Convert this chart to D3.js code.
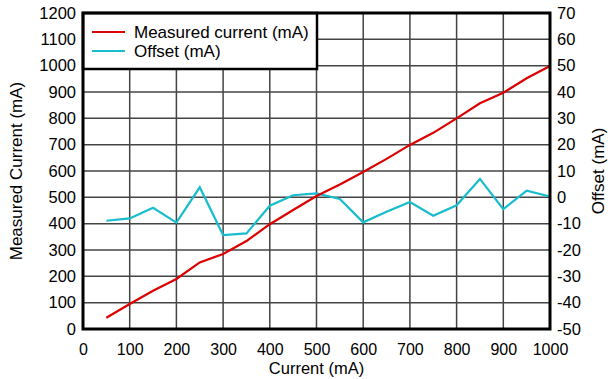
<!DOCTYPE html>
<html><head><meta charset="utf-8">
<script src="https://cdn.jsdelivr.net/npm/d3@7"></script>
<style>body{margin:0;background:#fff}svg{display:block;font-family:"Liberation Sans",Arial,sans-serif}</style>
</head><body><svg id="c" width="611" height="379"></svg>
<script>
const xValues = [50,100,150,200,250,300,350,400,450,500,550,600,650,700,750,800,850,900,950,1000];
const measured = [43,95,145,190,253,285,334,398,452,505,549,596,646,699,745,800,857,897,952,999];
const offset = [-8.9,-8,-4,-9.6,3.8,-14.3,-13.7,-3.2,0.8,1.5,-0.6,-9.5,-5.5,-1.8,-7,-3,7,-4.5,2.5,0.3];
const xTicks = [0,100,200,300,400,500,600,700,800,900,1000];
const leftTicks = [0,100,200,300,400,500,600,700,800,900,1000,1100,1200];
const rightTicks = [-50,-40,-30,-20,-10,0,10,20,30,40,50,60,70];
const seriesNames = ["Measured current (mA)","Offset (mA)"];
const colors = ["#dd0000","#17bccd"];

const svg = d3.select("#c");
const L=83,R=550,T=13,B=329;
const x = d3.scaleLinear().domain([0,1000]).range([L,R]);
const yL = d3.scaleLinear().domain([0,1200]).range([B,T]);
const yR = d3.scaleLinear().domain([-50,70]).range([B,T]);

// grid
svg.append("g").selectAll("line").data(xTicks).join("line")
  .attr("x1",d=>x(d)).attr("x2",d=>x(d)).attr("y1",T).attr("y2",B)
  .attr("stroke","#444").attr("stroke-width",1.5);
svg.append("g").selectAll("line").data(leftTicks).join("line")
  .attr("y1",d=>yL(d)).attr("y2",d=>yL(d)).attr("x1",L).attr("x2",R)
  .attr("stroke","#444").attr("stroke-width",1.5);

// axes labels
const fs = 16.5, tfs = 17;
const fmt = d => String(d);
const xa = d3.axisBottom(x).tickValues(xTicks).tickFormat(fmt).tickSize(0).tickPadding(14);
const gx = svg.append("g").attr("transform",`translate(0,${B})`).call(xa);
gx.selectAll("text").attr("dy",null).attr("y",355-B);
const la = d3.axisLeft(yL).tickValues(leftTicks).tickFormat(fmt).tickSize(0).tickPadding(7);
const gl = svg.append("g").attr("transform",`translate(${L},0)`).call(la);
const ra = d3.axisRight(yR).tickValues(rightTicks).tickFormat(fmt).tickSize(0).tickPadding(7);
const gr = svg.append("g").attr("transform",`translate(${R},0)`).call(ra);
[gx,gl,gr].forEach(g=>{g.select(".domain").remove();g.selectAll("text").attr("font-size",fs).attr("fill","#000").attr("font-family","Liberation Sans, Arial, sans-serif");});
gx.selectAll("text").attr("font-size",16);

// lines
const lineL = d3.line().x((d,i)=>x(xValues[i])).y(d=>yL(d));
const lineR = d3.line().x((d,i)=>x(xValues[i])).y(d=>yR(d));
svg.append("path").datum(offset).attr("d",lineR).attr("fill","none").attr("stroke",colors[1]).attr("stroke-width",2.2);
svg.append("path").datum(measured).attr("d",lineL).attr("fill","none").attr("stroke",colors[0]).attr("stroke-width",2.2);

// legend
svg.append("rect").attr("x",L).attr("y",T).attr("width",317-L).attr("height",69-T)
  .attr("fill","#fff").attr("stroke","#000").attr("stroke-width",2.5);
seriesNames.forEach((n,i)=>{
  const yy = 32 + i*19;
  svg.append("line").attr("x1",92).attr("x2",125).attr("y1",yy).attr("y2",yy).attr("stroke",colors[i]).attr("stroke-width",2.2);
  svg.append("text").attr("x",134).attr("y",yy+6).attr("font-size",tfs).text(n);
});

// border
svg.append("rect").attr("x",L).attr("y",T).attr("width",R-L).attr("height",B-T)
  .attr("fill","none").attr("stroke","#000").attr("stroke-width",3);

// titles
svg.append("text").attr("x",(L+R)/2).attr("y",374).attr("text-anchor","middle").attr("font-size",16.5).text("Current (mA)");
svg.append("text").attr("transform",`translate(22,${(T+B)/2}) rotate(-90)`).attr("text-anchor","middle").attr("font-size",tfs).text("Measured Current (mA)");
svg.append("text").attr("transform",`translate(604,${(T+B)/2}) rotate(-90)`).attr("text-anchor","middle").attr("font-size",tfs).text("Offset (mA)");
</script></body></html>
